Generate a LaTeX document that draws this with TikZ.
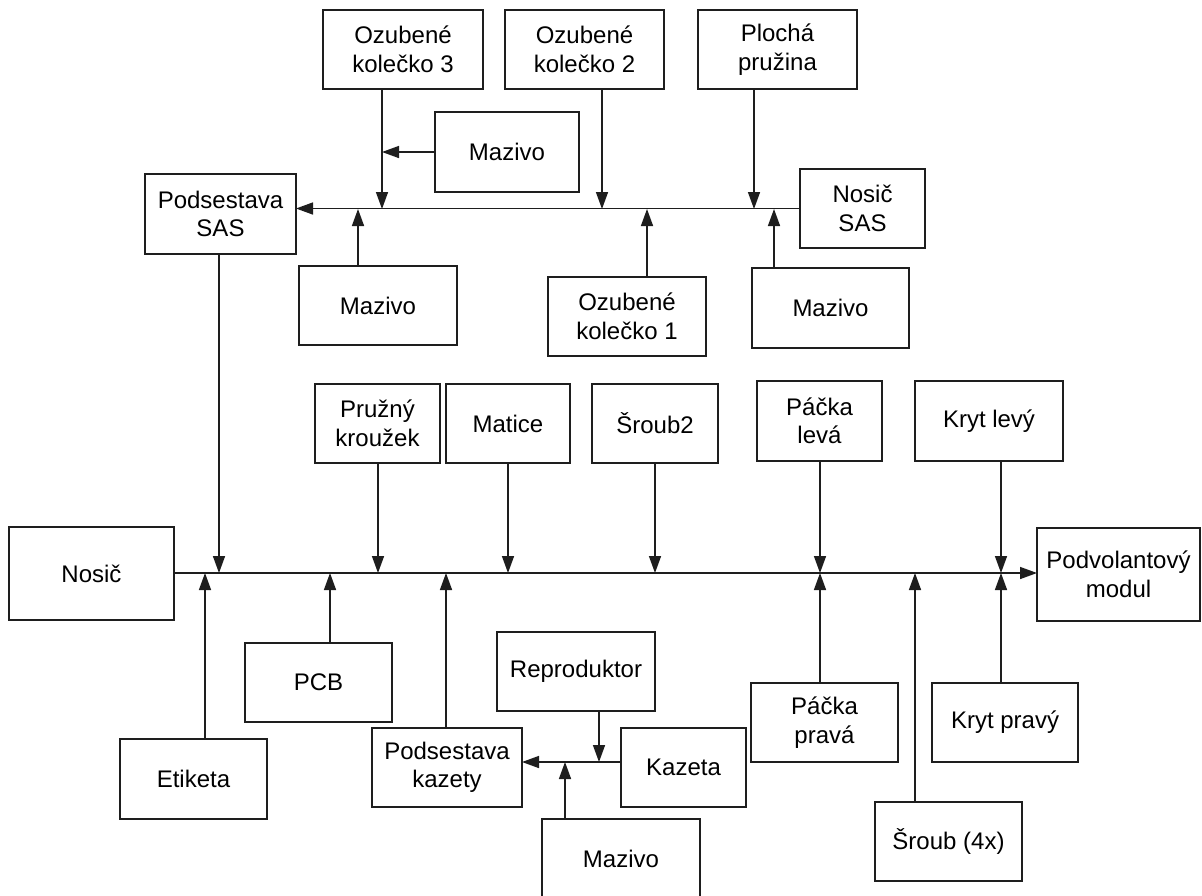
\documentclass[tikz,border=0pt]{standalone}
\usepackage{fontspec}
\setmainfont{Liberation Sans}
\usetikzlibrary{arrows.meta}
\definecolor{ink}{RGB}{30,30,30}
\begin{document}
\begin{tikzpicture}[x=1pt,y=-1pt,
  box/.style={draw=ink,line width=1.6pt,inner sep=0pt,outer sep=0pt,align=center,
    font=\fontsize{24}{28.5}\selectfont},
  arr/.style={draw=ink,line width=1.5pt,-{Triangle[length=17pt,width=12pt]}},
  ln/.style={draw=ink,line width=1.5pt}]
\clip (0,0) rectangle (1202,895);
\fill[white] (0,0) rectangle (1202,895);

% ---- SAS subassembly
\node[box,minimum width=160pt,minimum height=79pt] (oz3) at (403,49.5) {Ozubené\\kolečko 3};
\node[box,minimum width=159pt,minimum height=79pt] (oz2) at (584.5,49.5) {Ozubené\\kolečko 2};
\node[box,minimum width=159pt,minimum height=79pt] (pp) at (777.5,49.5) {Plochá\\pružina};
\node[box,minimum width=144pt,minimum height=80pt] (maz1) at (507,152) {Mazivo};
\node[box,minimum width=151pt,minimum height=80pt] (psas) at (220.5,214) {Podsestava\\SAS};
\node[box,minimum width=125pt,minimum height=79pt] (nsas) at (862.5,208.5) {Nosič\\SAS};
\node[box,minimum width=158pt,minimum height=79pt] (maz2) at (378,305.5) {Mazivo};
\node[box,minimum width=158pt,minimum height=79pt] (oz1) at (627,316.5) {Ozubené\\kolečko 1};
\node[box,minimum width=157pt,minimum height=80pt] (maz3) at (830.5,308) {Mazivo};

% ---- main line parts
\node[box,minimum width=125pt,minimum height=79pt] (pk) at (377.5,423.5) {Pružný\\kroužek};
\node[box,minimum width=124pt,minimum height=79pt] (mat) at (508,423.5) {Matice};
\node[box,minimum width=126pt,minimum height=79pt] (sr2) at (655,423.5) {Šroub2};
\node[box,minimum width=125pt,minimum height=80pt] (pl) at (819.5,421) {Páčka\\levá};
\node[box,minimum width=148pt,minimum height=80pt] (kl) at (989,421) {Kryt levý};
\node[box,minimum width=165pt,minimum height=93pt] (nos) at (91.5,573.5) {Nosič};
\node[box,minimum width=163pt,minimum height=93pt] (pm) at (1118.5,574.5) {Podvolantový\\modul};
\node[box,minimum width=147pt,minimum height=79pt] (pcb) at (318.5,682.5) {PCB};
\node[box,minimum width=147pt,minimum height=80pt] (et) at (193.5,779) {Etiketa};
\node[box,minimum width=150pt,minimum height=79pt] (pkaz) at (447,767.5) {Podsestava\\kazety};
\node[box,minimum width=158pt,minimum height=79pt] (rep) at (576,671.5) {Reproduktor};
\node[box,minimum width=125pt,minimum height=79pt] (kaz) at (683.5,767.5) {Kazeta};
\node[box,minimum width=158pt,minimum height=80pt] (maz4) at (621,859) {Mazivo};
\node[box,minimum width=147pt,minimum height=79pt] (ppr) at (824.5,722.5) {Páčka\\pravá};
\node[box,minimum width=146pt,minimum height=79pt] (kp) at (1005,722.5) {Kryt pravý};
\node[box,minimum width=147pt,minimum height=79pt] (sr4) at (948.5,841.5) {Šroub (4x)};

% ---- joints on the SAS line (y = 209)
\coordinate (s3) at (382,209);
\coordinate (s3m) at (382,152);
\coordinate (s2) at (602,209);
\coordinate (sp) at (754,209);
\coordinate (sm2) at (358,209);
\coordinate (s1) at (647,209);
\coordinate (sm3) at (774,209);

\draw[arr] (nsas.west) -- (nsas.west -| psas.east);
\draw[arr] (oz3.south -| s3) -- (s3);
\draw[arr] (maz1.west |- s3m) -- (s3m);
\draw[arr] (oz2.south -| s2) -- (s2);
\draw[arr] (pp.south -| sp) -- (sp);
\draw[arr] (maz2.north -| sm2) -- (sm2);
\draw[arr] (oz1.north -| s1) -- (s1);
\draw[arr] (maz3.north -| sm3) -- (sm3);

% ---- joints on the main line (y = 573)
\coordinate (m0) at (174,573);
\coordinate (msas) at (219,573);
\coordinate (met) at (205,573);
\coordinate (mpcb) at (330,573);
\coordinate (mpk) at (378,573);
\coordinate (mkaz) at (446,573);
\coordinate (mmat) at (508,573);
\coordinate (msr2) at (655,573);
\coordinate (mpl) at (820,573);
\coordinate (msr4) at (915,573);
\coordinate (mkl) at (1001,573);

\draw[arr] (m0) -- (m0 -| pm.west);
\draw[arr] (psas.south -| msas) -- (msas);
\draw[arr] (et.north -| met) -- (met);
\draw[arr] (pcb.north -| mpcb) -- (mpcb);
\draw[arr] (pk.south -| mpk) -- (mpk);
\draw[arr] (pkaz.north -| mkaz) -- (mkaz);
\draw[arr] (mat.south -| mmat) -- (mmat);
\draw[arr] (sr2.south -| msr2) -- (msr2);
\draw[arr] (pl.south -| mpl) -- (mpl);
\draw[arr] (ppr.north -| mpl) -- (mpl);
\draw[arr] (sr4.north -| msr4) -- (msr4);
\draw[arr] (kl.south -| mkl) -- (mkl);
\draw[arr] (kp.north -| mkl) -- (mkl);

% ---- cassette subassembly line (y = 762)
\coordinate (k0) at (621,762);
\coordinate (krep) at (599,762);
\coordinate (kmaz) at (565,762);
\draw[arr] (kaz.west |- k0) -- (k0 -| pkaz.east);
\draw[arr] (rep.south -| krep) -- (krep);
\draw[arr] (maz4.north -| kmaz) -- (kmaz);
\end{tikzpicture}
\end{document}
